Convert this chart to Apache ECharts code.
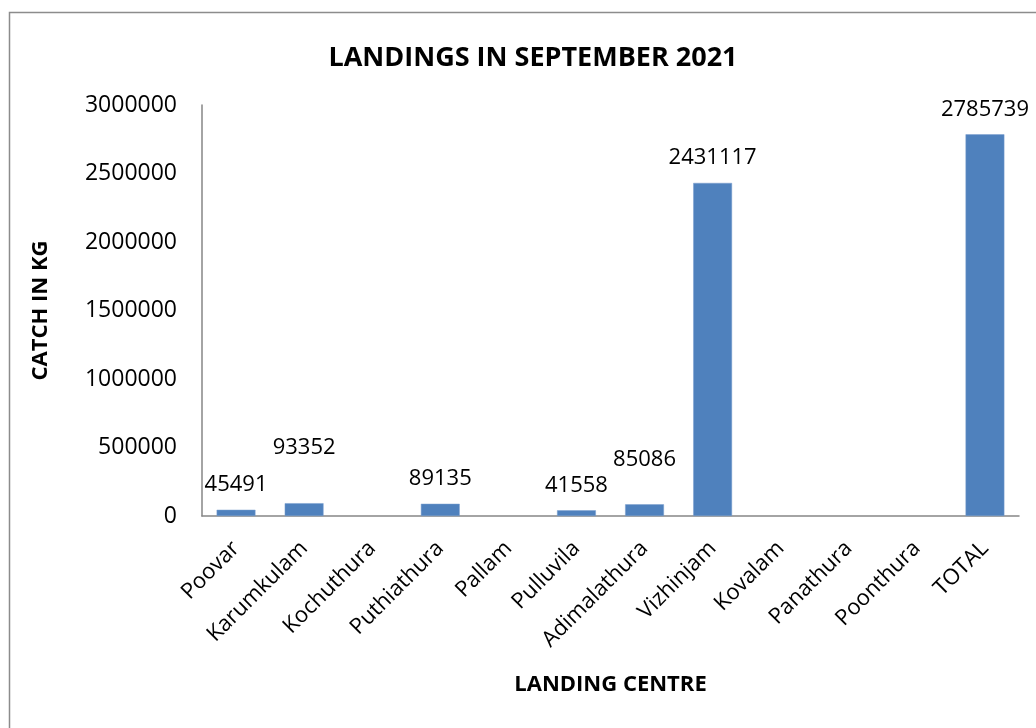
<!DOCTYPE html>
<html>
<head>
<meta charset="utf-8">
<title>Landings in September 2021</title>
<script src="https://cdn.jsdelivr.net/npm/echarts@6/dist/echarts.min.js"></script>
<style>
  html, body { margin: 0; padding: 0; background: #fff; }
  #chart { width: 1036px; height: 728px; }
</style>
</head>
<body>
<div id="chart"></div>
<script>
// Landing centres and catch (kg); centres with no reported catch are null
const centres = ['Poovar', 'Karumkulam', 'Kochuthura', 'Puthiathura', 'Pallam', 'Pulluvila',
  'Adimalathura', 'Vizhinjam', 'Kovalam', 'Panathura', 'Poonthura', 'TOTAL'];
const catchKg = [45491, 93352, null, 89135, null, 41558, 85086, 2431117, null, null, null, 2785739];
const yTicks = [0, 500000, 1000000, 1500000, 2000000, 2500000, 3000000];

// extra lift (px) for a few value labels that sit higher above their bars
const labelLift = [0, 30, 0, 0, 0, 0, 20, 0, 0, 0, 0, 0];

const FONT = '"Open Sans", sans-serif';
const chart = echarts.init(document.getElementById('chart'), null, { renderer: 'canvas' });

const barData = catchKg.map((v, i) => ({
  value: v,
  label: { distance: 14 + labelLift[i] }
}));

chart.setOption({
  animation: false,
  backgroundColor: '#ffffff',
  graphic: [{
    type: 'rect',
    shape: { x: 9.5, y: 12.5, width: 1040, height: 730 },
    style: { fill: 'none', stroke: '#8c8c8c', lineWidth: 1.5 },
    silent: true
  }],
  title: {
    text: 'LANDINGS IN SEPTEMBER 2021',
    left: 528, top: 53,
    textAlign: 'center', textVerticalAlign: 'middle',
    textStyle: { fontFamily: FONT, fontSize: 27, fontWeight: 'bold', color: '#000' }
  },
  grid: { left: 202, right: 17, top: 105, bottom: 212, containLabel: false },
  xAxis: {
    type: 'category',
    data: centres,
    name: 'LANDING CENTRE',
    nameLocation: 'middle',
    nameGap: 158,
    nameTextStyle: { fontFamily: FONT, fontSize: 22, fontWeight: 'bold', color: '#000' },
    axisLine: { lineStyle: { color: '#868686', width: 1.5 } },
    axisTick: { show: false },
    axisLabel: {
      interval: 0, rotate: 45, margin: 29,
      fontFamily: FONT, fontSize: 22, color: '#000'
    }
  },
  yAxis: {
    type: 'value',
    min: yTicks[0], max: yTicks[yTicks.length - 1], interval: yTicks[1] - yTicks[0],
    name: 'CATCH IN KG',
    nameLocation: 'middle',
    nameGap: 150,
    nameRotate: 90,
    nameTextStyle: { fontFamily: FONT, fontSize: 22, fontWeight: 'bold', color: '#000' },
    axisLine: { show: true, lineStyle: { color: '#868686', width: 1.5 } },
    axisTick: { show: false },
    splitLine: { show: false },
    axisLabel: {
      margin: 25, fontFamily: FONT, fontSize: 23, color: '#000',
      formatter: v => String(v)
    }
  },
  series: [{
    type: 'bar',
    data: barData,
    barWidth: '57%',
    itemStyle: { color: '#4F81BD', borderColor: '#7a9fcf', borderWidth: 0.5 },
    label: {
      show: true, position: 'top',
      fontFamily: FONT, fontSize: 22, color: '#000'
    }
  }]
});
</script>
</body>
</html>
